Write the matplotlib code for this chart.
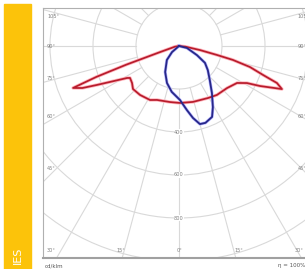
import numpy as np
import matplotlib
matplotlib.use('Agg')
import matplotlib.pyplot as plt
from matplotlib.patches import Circle, Rectangle

# Luminous intensity distribution, gamma in degrees (0 = straight down), values in cd/klm
# C90 / C270 plane (red)
red_gamma = [-90, -80, -72, -70.5, -69.5, -68.4, -66.5, -64.6, -58.4, -56.9, -51.8,
             -46.9, -38.5, -28.2, -22.2, -9.1, 1.0, 14.0, 29.1, 37.8, 48.8, 57.5,
             61.4, 63.7, 67.3, 69.3, 71.0, 73.5, 75.5, 76.7, 79, 84, 90]
red_cd = [0, 20, 100, 260, 410, 530, 490, 422, 284, 272, 278,
          293, 291, 285, 271, 264, 265, 268, 277, 288, 297, 320,
          360, 420, 519, 487, 413, 344, 259, 182, 100, 30, 0]

# C0 / C180 plane (blue)
blue_gamma = [-90, -49, -41, -28, -18, -9, 1, 7, 11, 15, 19, 25, 29, 35, 42, 50, 57, 63, 76, 90]
blue_cd = [0, 43, 86, 137, 181, 216, 251, 300, 341, 376, 378, 364, 325, 267, 214, 175, 144, 94, 38, 0]

ring_values = [200, 400, 600, 800, 1000, 1200, 1400]
ring_labels = [400, 600, 800]
side_angles = ['105°', '90°', '75°', '60°', '45°']
bottom_angles = ['30°', '15°', '0°', '15°', '30°']

# layout (pixels of the 305x269 picture)
W, H = 305, 269
CX, CY = 179, 46          # luminaire centre
PX_PER_CD = 43 / 200.0
FL, FR, FT, FB = 43, 308, 8, 258

def to_xy(g, i):
    g = np.radians(np.asarray(g, float))
    i = np.asarray(i, float)
    return i * np.sin(g), -i * np.cos(g)

def px(x, y):
    return (x - CX) / PX_PER_CD, -(y - CY) / PX_PER_CD

fig = plt.figure(figsize=(W / 100, H / 100), dpi=100)
fig.patches.append(Rectangle((4 / W, 0), 27 / W, (H - 4) / H, transform=fig.transFigure,
                             color='#fcc30a', zorder=0))
fig.text(18 / W, 1 - 255 / H, 'IES', rotation=90, color='white', fontsize=8,
         ha='center', va='center')

ax = fig.add_axes([FL / W, 1 - FB / H, (FR - FL) / W, (FB - FT) / H])
ax.set_xlim((FL - CX) / PX_PER_CD, (FR - CX) / PX_PER_CD)
ax.set_ylim(-(FB - CY) / PX_PER_CD, (CY - FT) / PX_PER_CD)
ax.set_aspect('equal')
ax.set_xticks([])
ax.set_yticks([])
for s in ax.spines.values():
    s.set_color('#b0b0b0')
    s.set_linewidth(0.8)
ax.spines['bottom'].set_linewidth(1.5)
ax.spines['bottom'].set_color('#a0a0a0')

grid_c = '#d9d9d9'
for r in ring_values:
    ax.add_patch(Circle((0, 0), r, fill=False, color=grid_c, lw=0.8, zorder=1))
for a in range(0, 360, 15):
    x, y = to_xy([a, a], [ring_values[0], 2000])
    ax.plot(x, y, color=grid_c, lw=0.8, zorder=1)

for v in ring_labels:
    ax.text(0, -v, str(v), fontsize=3.6, color='#808080', ha='center', va='center',
            bbox=dict(facecolor='white', edgecolor='none', pad=0.3), zorder=2)

side_y = [17, 47, 78, 116, 169]
for lab, y in zip(side_angles, side_y):
    ax.text(*px(47, y), lab, fontsize=3.6, color='#808080', ha='left', va='center', zorder=2)
    ax.text(*px(298, y), lab, fontsize=3.6, color='#808080', ha='left', va='center', zorder=2)
bottom_x = [51, 121, 180, 239, 299]
for lab, x in zip(bottom_angles, bottom_x):
    ax.text(*px(x, 251), lab, fontsize=3.6, color='#808080', ha='center', va='center', zorder=2)

rx, ry = to_xy(red_gamma, red_cd)
ax.plot(rx, ry, color='#ffb6be', lw=2.4, zorder=3, solid_joinstyle='round')
ax.plot(rx, ry, color='#b81c2c', lw=1.25, zorder=4, solid_joinstyle='round')
bx, by = to_xy(blue_gamma, blue_cd)
ax.plot(bx, by, color='#b4b4ff', lw=2.2, zorder=3, solid_joinstyle='round')
ax.plot(bx, by, color='#282888', lw=1.3, zorder=4, solid_joinstyle='round')

fig.text(45 / W, 1 - 266 / H, 'cd/klm', fontsize=4, color='#555555', ha='left', va='center')
fig.text(278 / W, 1 - 266 / H, 'η = 100%', fontsize=4, color='#555555', ha='left', va='center')

fig.savefig('out.png', dpi=100)
